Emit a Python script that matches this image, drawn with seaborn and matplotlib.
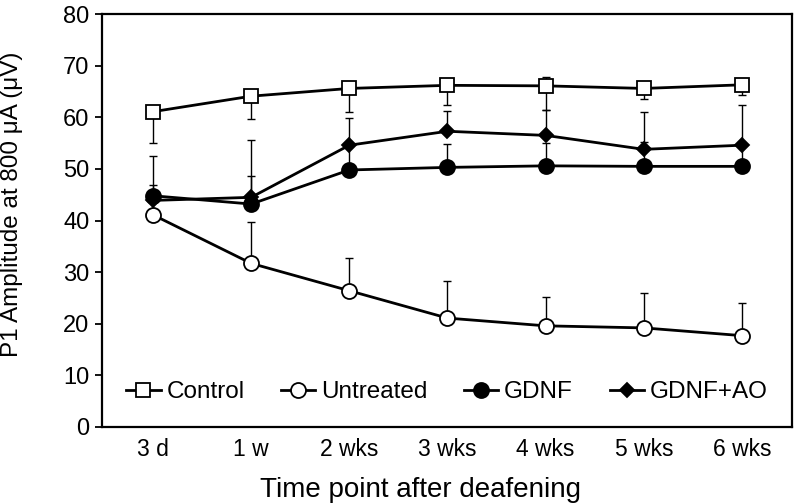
import numpy as np
import matplotlib
matplotlib.use('Agg')
import matplotlib.pyplot as plt
import pandas as pd
import seaborn as sns

# time points after deafening
time_labels = ['3 d', '1 w', '2 wks', '3 wks', '4 wks', '5 wks', '6 wks']

# mean P1 amplitudes (uV)
control = [61.1, 64.1, 65.6, 66.2, 66.1, 65.6, 66.3]
untreated = [41.1, 31.7, 26.4, 21.1, 19.6, 19.2, 17.7]
gdnf = [44.8, 43.2, 49.8, 50.3, 50.6, 50.5, 50.5]
gdnf_ao = [43.9, 44.5, 54.6, 57.3, 56.5, 53.8, 54.6]

# one-sided error bars (lower, upper)
control_err_lo = [6.0, 4.5, 4.6, 3.8, 4.6, 2.1, 1.9]
control_err_hi = [0.0, 0.0, 0.0, 0.0, 1.7, 0.0, 0.0]
untreated_err = [3.5, 8.0, 6.4, 7.1, 5.6, 6.8, 6.3]
gdnf_err = [7.8, 5.5, 4.7, 4.5, 4.5, 4.7, 3.9]
gdnf_ao_err = [3.0, 11.1, 5.3, 4.0, 5.0, 7.3, 7.8]

plt.rcParams['font.family'] = ['Liberation Sans', 'DejaVu Sans']

x = np.arange(len(time_labels))
zeros = np.zeros(len(x))

fig, ax = plt.subplots(figsize=(8, 5.04), dpi=100)
fig.subplots_adjust(left=0.1275, right=0.99, bottom=0.1528, top=0.972)

# error bars first so the markers sit on top
bar_kw = dict(fmt='none', ecolor='black', elinewidth=1.0, capsize=3.2, capthick=1.0, zorder=1)
ax.errorbar(x, control, yerr=[control_err_lo, control_err_hi], **bar_kw)
ax.errorbar(x, untreated, yerr=[zeros, untreated_err], **bar_kw)
ax.errorbar(x, gdnf, yerr=[zeros, gdnf_err], **bar_kw)
ax.errorbar(x, gdnf_ao, yerr=[zeros, gdnf_ao_err], **bar_kw)

series = [
    ('Control', control, 's', 'white', 10.5),
    ('Untreated', untreated, 'o', 'white', 10.8),
    ('GDNF', gdnf, 'o', 'black', 10.8),
    ('GDNF+AO', gdnf_ao, 'D', 'black', 7.6),
]
for name, vals, mk, face, ms in series:
    sns.lineplot(x=x, y=vals, ax=ax, color='black', linewidth=2.0, marker=mk,
                 markersize=ms, markerfacecolor=face, markeredgecolor='black',
                 markeredgewidth=1.3, label=name, zorder=3)

ax.set_xlim(-0.52, 6.51)
ax.set_ylim(0, 80)
ax.set_xticks(x)
ax.set_xticklabels(time_labels)
ax.set_yticks(np.arange(0, 81, 10))
ax.tick_params(axis='x', length=0, pad=8, labelsize=16.5)
ax.tick_params(axis='y', length=5, width=1.3, pad=4, labelsize=17, direction='out')

for sp in ax.spines.values():
    sp.set_linewidth(1.6)
    sp.set_color('black')

ax.set_xlabel('Time point after deafening', fontsize=20)
ax.set_ylabel('P1 Amplitude at 800 μA (μV)', fontsize=17.5)
ax.xaxis.set_label_coords(0.462, -0.12)
ax.yaxis.set_label_coords(-0.115, 0.54)

ax.legend(loc='lower center', bbox_to_anchor=(0.5, 0.004), ncol=4, frameon=False,
          fontsize=17.5, handlelength=1.4, handletextpad=0.25, columnspacing=1.5)

plt.savefig('out.png', dpi=100)
